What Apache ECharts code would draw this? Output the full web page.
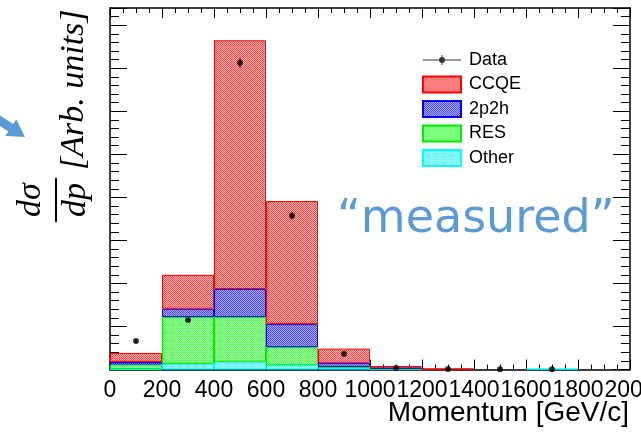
<!DOCTYPE html>
<html>
<head>
<meta charset="utf-8">
<script src="https://cdn.jsdelivr.net/npm/echarts@6/dist/echarts.min.js"></script>
<style>
  html, body {margin: 0; padding: 0; background: #fff;}
  #chart {width: 641px; height: 435px;}
</style>
</head>
<body>
<div id="chart"></div>
<script>
// momentum bins (GeV/c)
const binEdges = [0, 200, 400, 600, 800, 1000, 1200, 1400, 1600, 1800, 2000];
// stacked MC contributions, arbitrary units
const ccqe = [2.1, 7.9, 57.8, 28.6, 3.3, 0.35, 0.25, 0, 0, 0];
const twoP2h = [0.6, 1.9, 6.5, 5.35, 0.95, 0.3, 0, 0, 0, 0];
const res = [1.05, 10.9, 10.4, 4.2, 0.25, 0.1, 0, 0, 0, 0];
const other = [0.1, 1.3, 1.8, 1.0, 0.35, 0.07, 0, 0, 0.2, 0];
// data points (first 9 bins)
const dataY = [6.6, 11.5, 71.3, 35.7, 3.6, 0.35, 0.1, 0.05, 0.05];
const dataErr = [0.35, 0.45, 1.1, 0.8, 0.25, 0.1, 0.05, 0.05, 0.05];

const binNames = binEdges.slice(0, -1).map((e, i) => e + '-' + binEdges[i + 1]);
const centers = binEdges.slice(0, -1).map((e, i) => (e + binEdges[i + 1]) / 2);

function pattern(dark, light) {
  const c = document.createElement('canvas');
  c.width = c.height = 2;
  const ctx = c.getContext('2d');
  ctx.fillStyle = light;
  ctx.fillRect(0, 0, 2, 2);
  ctx.fillStyle = dark;
  ctx.fillRect(0, 0, 1, 1);
  ctx.fillRect(1, 1, 1, 1);
  return {image: c, repeat: 'repeat'};
}

const font = 'Liberation Sans';
const YMAX = 84;

const xValueAxis = (pos) => ({
  type: 'value',
  position: pos,
  min: 0,
  max: 2000,
  interval: 200,
  axisLine: {show: true, onZero: false, lineStyle: {color: '#000', width: 1.5}},
  axisTick: {show: true, inside: true, length: 10, lineStyle: {color: '#000'}},
  minorTick: {show: true, splitNumber: 4, length: 5, lineStyle: {color: '#000'}},
  axisLabel: {
    show: pos === 'bottom',
    color: '#000',
    fontFamily: font,
    fontSize: 23,
    margin: 10,
    showMinLabel: true,
    showMaxLabel: true,
    formatter: v => String(v)
  },
  splitLine: {show: false}
});

const yAxis = (pos, interval, len) => ({
  type: 'value',
  position: pos,
  min: 0,
  max: YMAX,
  interval: interval,
  axisLine: {show: interval === 2, lineStyle: {color: '#000', width: 1.5}},
  axisTick: {show: true, inside: true, length: len, lineStyle: {color: '#000'}},
  axisLabel: {show: false},
  splitLine: {show: false}
});

const bar = (name, values, dark, light, edge) => ({
  name: name,
  type: 'bar',
  stack: 'mc',
  xAxisIndex: 0,
  yAxisIndex: 0,
  barCategoryGap: '0%',
  data: values.map(v => v || null),
  itemStyle: {color: pattern(dark, light), borderColor: edge, borderWidth: 1},
  emphasis: {disabled: true}
});

const dataIcon = 'path://M0,0h0.01v0.01h-0.01zM37.99,15.99h0.01v0.01h-0.01z' +
  'M0,7.5h38v1h-38zM18.5,3h1v10h-1zM22,8a3,3 0 1,1 -6,0a3,3 0 1,1 6,0z';

const serifItalic = 'italic 34px "Liberation Serif"';

const chart = echarts.init(document.getElementById('chart'), null, {renderer: 'canvas'});
chart.setOption({
  backgroundColor: '#fff',
  animation: false,
  grid: {left: 110, right: 11, top: 8, bottom: 65.5, containLabel: false, outerBoundsMode: 'none'},
  xAxis: [
    {type: 'category', data: binNames, show: false, boundaryGap: true},
    xValueAxis('bottom'),
    xValueAxis('top')
  ],
  yAxis: [
    yAxis('left', 2, 9),
    yAxis('left', 10, 17),
    yAxis('right', 2, 9),
    yAxis('right', 10, 17)
  ],
  legend: {
    orient: 'vertical',
    left: 417,
    top: 46,
    itemWidth: 38,
    itemHeight: 16,
    itemGap: 6.5,
    selectedMode: false,
    textStyle: {color: '#000', fontFamily: font, fontSize: 18, padding: [0, 0, 0, 3]},
    data: [
      {name: 'Data', icon: dataIcon},
      {name: 'CCQE', icon: 'rect'},
      {name: '2p2h', icon: 'rect'},
      {name: 'RES', icon: 'rect'},
      {name: 'Other', icon: 'rect'}
    ]
  },
  series: [
    bar('Other', other, '#4dffff', '#b0ffff', '#00ffff'),
    bar('RES', res, '#4dff4d', '#b0ffb0', '#00ee00'),
    bar('2p2h', twoP2h, '#4d4dff', '#a8a8ff', '#0000ff'),
    bar('CCQE', ccqe, '#ff4d4d', '#ffb0b0', '#ff0000'),
    {
      name: 'DataErr',
      type: 'custom',
      xAxisIndex: 1,
      yAxisIndex: 0,
      encode: {x: 0, y: 1},
      data: centers.slice(0, dataY.length).map((c, i) => [c, dataY[i], dataErr[i]]),
      renderItem(params, api) {
        const x = api.value(0), y = api.value(1), e = api.value(2);
        const p1 = api.coord([x, y - e]);
        const p2 = api.coord([x, y + e]);
        return {
          type: 'line',
          shape: {x1: p1[0], y1: p1[1], x2: p2[0], y2: p2[1]},
          style: {stroke: '#000', lineWidth: 1.2}
        };
      },
      z: 5
    },
    {
      name: 'Data',
      type: 'scatter',
      xAxisIndex: 1,
      yAxisIndex: 0,
      symbol: 'circle',
      symbolSize: 6,
      itemStyle: {color: '#000'},
      data: centers.slice(0, dataY.length).map((c, i) => [c, dataY[i]]),
      z: 6
    }
  ],
  graphic: [
    {
      type: 'polygon',
      shape: {points: [[0, 115.4], [13.2, 123.9], [16.2, 119.3], [25, 137], [5.3, 136.1], [8.3, 131.5], [0, 126.1]]},
      style: {fill: '#5b9bd5'}
    },
    {
      type: 'text', x: 31, y: 200, rotation: Math.PI / 2,
      style: {
        text: 'dσ', font: serifItalic, fill: '#000',
        align: 'center', verticalAlign: 'middle', textAlign: 'center', textVerticalAlign: 'middle'
      }
    },
    {
      type: 'line',
      shape: {x1: 56, y1: 178, x2: 56, y2: 222},
      style: {stroke: '#000', lineWidth: 2}
    },
    {
      type: 'text', x: 76, y: 200, rotation: Math.PI / 2,
      style: {
        text: 'dp', font: serifItalic, fill: '#000',
        align: 'center', verticalAlign: 'middle', textAlign: 'center', textVerticalAlign: 'middle'
      }
    },
    {
      type: 'text', x: 74, y: 170, rotation: Math.PI / 2,
      style: {
        text: '[Arb. units]', font: serifItalic, fill: '#000',
        align: 'left', verticalAlign: 'middle', textAlign: 'left', textVerticalAlign: 'middle'
      }
    },
    {
      type: 'text', x: 629, y: 413,
      style: {
        text: 'Momentum [GeV/c]', font: '28px "Liberation Sans"', fill: '#000',
        align: 'right', verticalAlign: 'middle', textAlign: 'right', textVerticalAlign: 'middle'
      }
    },
    {
      type: 'text', x: 337, y: 220,
      style: {
        text: '“measured”', font: '46px "DejaVu Sans"', fill: '#5b9bd5',
        align: 'left', verticalAlign: 'middle', textAlign: 'left', textVerticalAlign: 'middle'
      }
    }
  ]
});
</script>
</body>
</html>
